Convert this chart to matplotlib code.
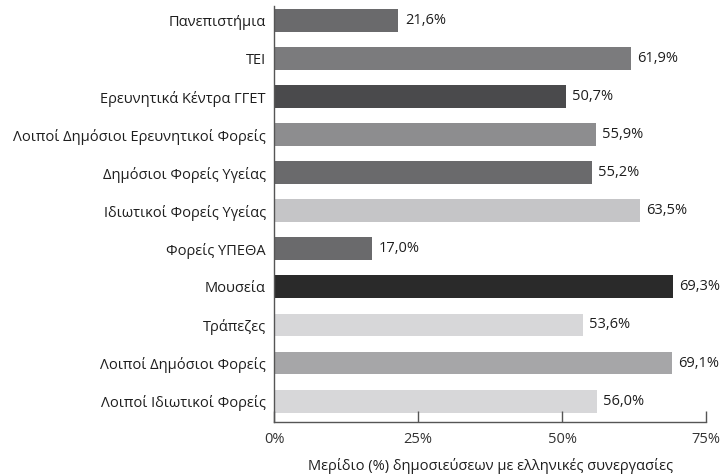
import matplotlib
matplotlib.use("Agg")
import matplotlib.pyplot as plt
from matplotlib.ticker import FixedLocator

categories = ["Πανεπιστήμια", "ΤΕΙ", "Ερευνητικά Κέντρα ΓΓΕΤ",
              "Λοιποί Δημόσιοι Ερευνητικοί Φορείς", "Δημόσιοι Φορείς Υγείας",
              "Ιδιωτικοί Φορείς Υγείας", "Φορείς ΥΠΕΘΑ", "Μουσεία", "Τράπεζες",
              "Λοιποί Δημόσιοι Φορείς", "Λοιποί Ιδιωτικοί Φορείς"]
values = [21.6, 61.9, 50.7, 55.9, 55.2, 63.5, 17.0, 69.3, 53.6, 69.1, 56.0]
colors = ["#6a6a6c", "#7b7b7d", "#4a4a4c", "#8d8d8f", "#6a6a6c", "#c5c5c7",
          "#6a6a6c", "#2a2a2a", "#d7d7d9", "#a6a6a8", "#d7d7d9"]
xticks = [0, 25, 50, 75]
xticklabels = ["0%", "25%", "50%", "75%"]
xlabel = "Μερίδιο (%) δημοσιεύσεων με ελληνικές συνεργασίες"

plt.rcParams['font.family'] = ['Open Sans', 'DejaVu Sans']
FS = 10.5

fig = plt.figure(figsize=(7.23, 4.76), dpi=100)
ax = fig.add_axes([0.379, 0.1134, 0.5975, 0.874])

ypos = list(range(len(categories)))
ax.barh(ypos, values, height=0.6, color=colors)
for y, v in zip(ypos, values):
    ax.text(v + 1.1, y, f"{v:.1f}%".replace(".", ","), va="center", ha="left",
            fontsize=FS, color="#1e1e1e")

ax.set_xlim(0, 75)
ax.set_ylim(10.55, -0.38)
ax.set_yticks(ypos)
ax.set_yticklabels(categories, fontsize=FS, color="#1e1e1e")
ax.tick_params(axis="y", length=0, pad=6)
ax.xaxis.set_major_locator(FixedLocator(xticks))
ax.set_xticklabels(xticklabels, fontsize=FS, color="#333333")
ax.tick_params(axis="x", direction="in", length=8, width=1, color="#555555", pad=7)
ax.set_xlabel(xlabel, fontsize=FS, color="#1e1e1e", labelpad=8)

for s in ["top", "right"]:
    ax.spines[s].set_visible(False)
for s in ["left", "bottom"]:
    ax.spines[s].set_color("#555555")
    ax.spines[s].set_linewidth(1)

fig.savefig("out.png", dpi=100)
